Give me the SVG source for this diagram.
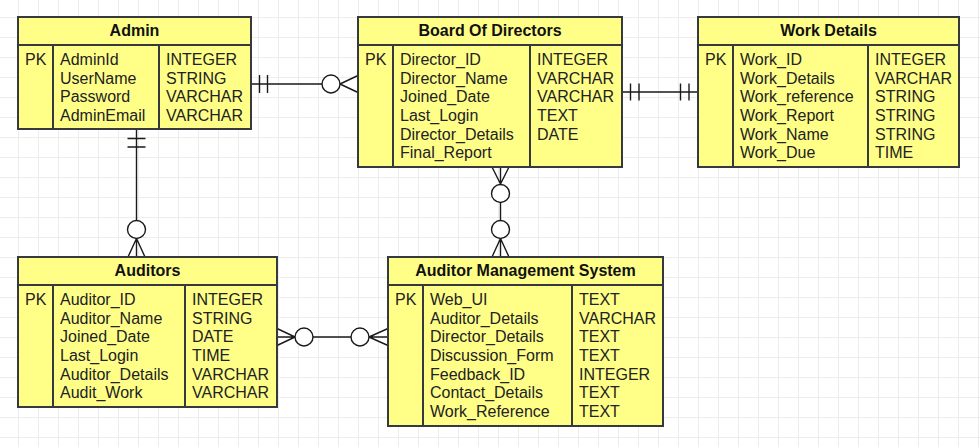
<svg xmlns="http://www.w3.org/2000/svg" width="980" height="447" viewBox="0 0 980 447">
<defs>
<pattern id="grid" patternUnits="userSpaceOnUse" x="18" y="17" width="20" height="20">
<rect x="0" y="0" width="1" height="20" fill="#ededed"/>
<rect x="0" y="0" width="20" height="1" fill="#ededed"/>
</pattern>
<style>
.box{fill:#ffff88;stroke:#36393d;stroke-width:2}
.div{stroke:#36393d;stroke-width:2;fill:none}
.hd{font-family:"Liberation Sans",Arial,sans-serif;font-size:16px;font-weight:bold;fill:#111;text-anchor:middle}
.tx{font-family:"Liberation Sans",Arial,sans-serif;font-size:16px;fill:#222}
.ln{stroke:#1a1a1a;stroke-width:1.4;fill:none}
.ci{stroke:#1a1a1a;stroke-width:1.4;fill:#ffffff}
</style>
</defs>
<rect x="0" y="0" width="980" height="447" fill="#ffffff"/>
<rect x="0" y="0" width="980" height="447" fill="url(#grid)"/>

<g id="connectors">
<!-- Admin to Board Of Directors -->
<path class="ln" d="M251 84 H340 M259.5 75 V93 M267.5 75 V93 M340 84 L358 75.5 M340 84 L358 92.5"/>
<circle class="ci" cx="331" cy="84" r="9"/>
<!-- Board Of Directors to Work Details -->
<path class="ln" d="M622 92 H698 M630.5 83.5 V100.5 M639 83.5 V100.5 M680.5 83.5 V100.5 M689 83.5 V100.5"/>
<!-- Admin to Auditors -->
<path class="ln" d="M136.5 129 V257 M127.5 138.5 H145.5 M127.5 147 H145.5 M136.5 238.5 L128 257 M136.5 238.5 L145 257"/>
<circle class="ci" cx="136.5" cy="229.5" r="9"/>
<!-- Board Of Directors to Auditor Management System -->
<path class="ln" d="M500.5 167 V257 M500.5 184 L492 167 M500.5 184 L509 167 M500.5 238.5 L492 257 M500.5 238.5 L509 257"/>
<circle class="ci" cx="500.5" cy="193.5" r="9"/>
<circle class="ci" cx="500.5" cy="229.5" r="9"/>
<!-- Auditors to Auditor Management System -->
<path class="ln" d="M277 337 H388 M295 337 L277 328.5 M295 337 L277 345.5 M369 337 L388 328.5 M369 337 L388 345.5"/>
<circle class="ci" cx="304" cy="337" r="9"/>
<circle class="ci" cx="360" cy="337" r="9"/>
</g>

<g id="admin">
<rect class="box" x="18" y="17" width="233" height="112"/>
<path class="div" d="M18 45 H251 M53 45 V129 M159 45 V129"/>
<text class="hd" x="134.5" y="35.5">Admin</text>
<text class="tx" x="25" y="65">PK</text>
<text class="tx" x="60" y="65">AdminId</text>
<text class="tx" x="60" y="83.7">UserName</text>
<text class="tx" x="60" y="102.3">Password</text>
<text class="tx" x="60" y="121">AdminEmail</text>
<text class="tx" x="166" y="65">INTEGER</text>
<text class="tx" x="166" y="83.7">STRING</text>
<text class="tx" x="166" y="102.3">VARCHAR</text>
<text class="tx" x="166" y="121">VARCHAR</text>
</g>

<g id="board-of-directors">
<rect class="box" x="358" y="17" width="264" height="150"/>
<path class="div" d="M358 45 H622 M393 45 V167 M530 45 V167"/>
<text class="hd" x="490" y="35.5">Board Of Directors</text>
<text class="tx" x="365" y="65">PK</text>
<text class="tx" x="400" y="65">Director_ID</text>
<text class="tx" x="400" y="83.7">Director_Name</text>
<text class="tx" x="400" y="102.3">Joined_Date</text>
<text class="tx" x="400" y="121">Last_Login</text>
<text class="tx" x="400" y="139.6">Director_Details</text>
<text class="tx" x="400" y="158.3">Final_Report</text>
<text class="tx" x="537" y="65">INTEGER</text>
<text class="tx" x="537" y="83.7">VARCHAR</text>
<text class="tx" x="537" y="102.3">VARCHAR</text>
<text class="tx" x="537" y="121">TEXT</text>
<text class="tx" x="537" y="139.6">DATE</text>
</g>

<g id="work-details">
<rect class="box" x="698" y="17" width="261" height="150"/>
<path class="div" d="M698 45 H959 M733 45 V167 M868 45 V167"/>
<text class="hd" x="828.5" y="35.5">Work Details</text>
<text class="tx" x="705" y="65">PK</text>
<text class="tx" x="740" y="65">Work_ID</text>
<text class="tx" x="740" y="83.7">Work_Details</text>
<text class="tx" x="740" y="102.3">Work_reference</text>
<text class="tx" x="740" y="121">Work_Report</text>
<text class="tx" x="740" y="139.6">Work_Name</text>
<text class="tx" x="740" y="158.3">Work_Due</text>
<text class="tx" x="875" y="65">INTEGER</text>
<text class="tx" x="875" y="83.7">VARCHAR</text>
<text class="tx" x="875" y="102.3">STRING</text>
<text class="tx" x="875" y="121">STRING</text>
<text class="tx" x="875" y="139.6">STRING</text>
<text class="tx" x="875" y="158.3">TIME</text>
</g>

<g id="auditors">
<rect class="box" x="18" y="257" width="259" height="150"/>
<path class="div" d="M18 285 H277 M53 285 V407 M185 285 V407"/>
<text class="hd" x="147.5" y="275.5">Auditors</text>
<text class="tx" x="25" y="305">PK</text>
<text class="tx" x="60" y="305">Auditor_ID</text>
<text class="tx" x="60" y="323.7">Auditor_Name</text>
<text class="tx" x="60" y="342.3">Joined_Date</text>
<text class="tx" x="60" y="361">Last_Login</text>
<text class="tx" x="60" y="379.6">Auditor_Details</text>
<text class="tx" x="60" y="398.3">Audit_Work</text>
<text class="tx" x="192" y="305">INTEGER</text>
<text class="tx" x="192" y="323.7">STRING</text>
<text class="tx" x="192" y="342.3">DATE</text>
<text class="tx" x="192" y="361">TIME</text>
<text class="tx" x="192" y="379.6">VARCHAR</text>
<text class="tx" x="192" y="398.3">VARCHAR</text>
</g>

<g id="auditor-management-system">
<rect class="box" x="388" y="257" width="275" height="169"/>
<path class="div" d="M388 285 H663 M423 285 V426 M572 285 V426"/>
<text class="hd" x="525.5" y="275.5">Auditor Management System</text>
<text class="tx" x="395" y="305">PK</text>
<text class="tx" x="430" y="305">Web_UI</text>
<text class="tx" x="430" y="323.7">Auditor_Details</text>
<text class="tx" x="430" y="342.3">Director_Details</text>
<text class="tx" x="430" y="361">Discussion_Form</text>
<text class="tx" x="430" y="379.6">Feedback_ID</text>
<text class="tx" x="430" y="398.3">Contact_Details</text>
<text class="tx" x="430" y="417">Work_Reference</text>
<text class="tx" x="579" y="305">TEXT</text>
<text class="tx" x="579" y="323.7">VARCHAR</text>
<text class="tx" x="579" y="342.3">TEXT</text>
<text class="tx" x="579" y="361">TEXT</text>
<text class="tx" x="579" y="379.6">INTEGER</text>
<text class="tx" x="579" y="398.3">TEXT</text>
<text class="tx" x="579" y="417">TEXT</text>
</g>
</svg>
